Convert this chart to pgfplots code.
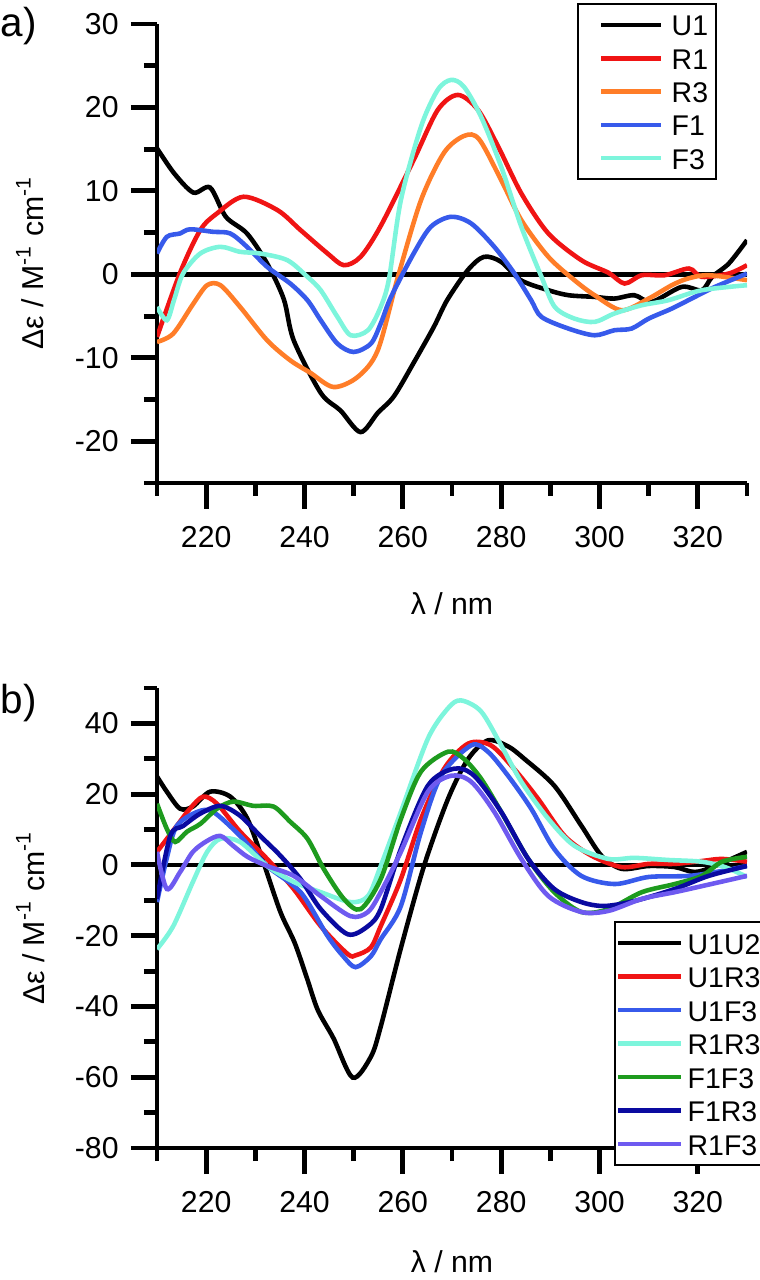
\documentclass[border=0pt]{standalone}
\usepackage{pgfplots}
\pgfplotsset{compat=1.18}
\usepackage{fontspec}
\setmainfont{Liberation Sans}
\definecolor{cR}{RGB}{240,20,20}
\definecolor{cO}{RGB}{255,125,40}
\definecolor{cB}{RGB}{55,90,235}
\definecolor{cC}{RGB}{125,245,220}
\definecolor{cG}{RGB}{30,155,30}
\definecolor{cN}{RGB}{10,10,160}
\definecolor{cP}{RGB}{110,90,240}
\newcommand{\fs}{\fontsize{8.6}{10}\selectfont}
\newcommand{\fl}{\fontsize{8.1}{10}\selectfont}
\pgfplotsset{cdstyle/.style={
  scale only axis, width=59mm,
  xmin=210, xmax=330,
  axis x line=bottom, axis y line=left,
  axis line style={-, line width=1.4pt},
  tick align=outside, major tick length=2.6mm, minor tick length=1.3mm,
  every tick/.style={black, line width=1.4pt},
  xtick={220,240,...,320}, minor xtick={210,230,...,330},
  tick label style={font=\fs},
  xticklabel style={yshift=-0.5mm},
  /pgf/number format/assume math mode=true,
  xlabel={λ / nm}, ylabel={Δε / M\textsuperscript{-1} cm\textsuperscript{-1}},
  label style={font=\fs},
  every axis plot/.append style={line width=1.3pt, smooth},
  legend cell align=left,
}}
\begin{document}
\begin{tikzpicture}
\path[use as bounding box] (0,0) rectangle (75.9mm,-128mm);
\node[anchor=base west, font=\fontsize{11.5}{13}\selectfont, inner sep=0pt] at (0mm,-3.7mm) {a)};
\node[anchor=base west, font=\fontsize{11.5}{13}\selectfont, inner sep=0pt] at (0mm,-71.3mm) {b)};
\begin{axis}[cdstyle, at={(15.7mm,-48.3mm)}, anchor=south west, height=45.9mm,
  ymin=-25, ymax=30, ytick={-20,-10,...,30}, minor ytick={-25,-15,...,25},
  xlabel style={at={(axis description cs:0.5,0)}, anchor=center, yshift=-12.1mm},
  ylabel style={at={(axis description cs:-0.215,0.48)}, anchor=center},
  legend style={at={(0.712,1.046)}, anchor=north west, draw=black, line width=0.6pt,
    font=\fl, inner xsep=0.8mm, inner ysep=1mm,
    nodes={inner sep=0pt, text height=2.2mm, text depth=0mm}, row sep=1.13mm},
  legend image code/.code={\path (0mm,0mm) (8.1mm,0mm); \draw[#1,line width=1.3pt] (1.3mm,0mm) -- (7.3mm,0mm);},
]
\addplot[black, line width=1.3pt, forget plot, sharp plot] coordinates {(210,0) (330,0)};
\addplot[black] coordinates {(210,15.1)(213.5,12.1)(217.4,9.8)(220.8,10.4)(224,6.9)(228.3,4.9)(232.4,1.3)(235.8,-3)(237.8,-7.9)(243.3,-14.2)(247.3,-16.3)(251.4,-18.9)(254.9,-16.6)(258.2,-14.6)(262.2,-10.6)(266.3,-6.3)(269,-3.1)(273.2,0.5)(276.5,2.1)(280,1.5)(284,-0.7)(289.6,-1.9)(293.7,-2.5)(299,-2.7)(303,-2.9)(307.1,-2.5)(310.6,-3.3)(316.7,-1.5)(320.8,-1.9)(322.9,-0.3)(326.3,1.3)(330,4.1)};
\addlegendentry{U1}
\addplot[cR] coordinates {(210,-7.5)(214.7,0.2)(218.8,5.3)(222.2,7.3)(227.6,9.3)(234.5,7.7)(239.2,5.3)(244.7,2.5)(248,1.1)(251.4,2.1)(255.5,5.8)(262.2,13.7)(267.1,19.7)(271.2,21.5)(275.3,19.7)(279.4,15.3)(284.1,9.7)(289.6,4.9)(296.3,1.7)(301.8,0.2)(305.1,-1.1)(308.6,-0.1)(313.3,-0.1)(318.2,0.7)(320.8,-0.3)(326.3,0.1)(330,1.1)};
\addlegendentry{R1}
\addplot[cO] coordinates {(210,-8.1)(213.3,-7.1)(217.4,-3.5)(220.2,-1.3)(222.9,-1.3)(226.9,-3.9)(232.4,-7.9)(237.1,-10.3)(241.2,-11.8)(245.9,-13.5)(250.8,-12.3)(254.9,-9.1)(259,-0.3)(263.7,8.9)(268.4,14.6)(272.5,16.6)(275.5,16.2)(280,11.3)(284.1,6.5)(289.6,2.1)(294.9,-0.7)(299,-2.5)(304.5,-4.3)(310,-2.9)(314.7,-1.3)(318,-0.5)(322.2,-0.1)(330,-0.7)};
\addlegendentry{R3}
\addplot[cB] coordinates {(210,2.5)(212,4.5)(214.7,4.9)(216.7,5.4)(221.4,5.1)(224.9,4.9)(228.3,3.3)(232.4,0.9)(237.1,-1.1)(240.6,-3.1)(243.3,-5.5)(246.7,-8.3)(250,-9.3)(253.5,-8.3)(255.5,-5.9)(257.6,-2.7)(262.2,2.5)(265.7,5.7)(269.8,6.9)(273.9,6.1)(278.6,3.3)(282.7,0.1)(286.1,-3.1)(288.2,-5.1)(293.7,-6.5)(299,-7.3)(303,-6.7)(306.5,-6.5)(310,-5.3)(314.7,-4.1)(319.4,-2.7)(323.5,-1.5)(330,0.1)};
\addlegendentry{F1}
\addplot[cC] coordinates {(210,-3.9)(212,-5.5)(213.5,-3)(215.3,0.1)(218.8,2.5)(222.9,3.3)(226.9,2.7)(231,2.5)(236.5,1.7)(240.6,-0.3)(243.3,-1.9)(246.7,-5.1)(249.4,-7.3)(252.9,-6.7)(255.5,-3.9)(257.2,-0.5)(259.6,8.9)(263.7,17.7)(267.1,22.1)(269.8,23.3)(272.4,22.5)(275.9,18.9)(280,12.9)(284.1,5.7)(288.2,-0.3)(290.9,-3.9)(294.9,-5.3)(299,-5.7)(303,-4.7)(308.6,-3.7)(314,-3.1)(320.8,-1.9)(330,-1.3)};
\addlegendentry{F3}
\end{axis}
\begin{axis}[cdstyle, at={(15.7mm,-114.8mm)}, anchor=south west, height=46mm,
  ymin=-80, ymax=50, ytick={-80,-60,...,40}, minor ytick={-70,-50,...,50},
  xlabel style={at={(axis description cs:0.5,0)}, anchor=center, yshift=-11.4mm},
  ylabel style={at={(axis description cs:-0.215,0.5)}, anchor=center},
  legend style={at={(0.7746,0.4935)}, anchor=north west, draw=black, line width=0.6pt,
    font=\fl, inner xsep=0.1mm, inner ysep=1mm,
    nodes={inner sep=0pt, text height=2.2mm, text depth=0mm}, row sep=1.15mm},
  legend image code/.code={\path (0mm,0mm) (6.7mm,0mm); \draw[#1,line width=1.3pt] (0mm,0mm) -- (6.3mm,0mm);},
]
\addplot[black, line width=1.3pt, forget plot, sharp plot] coordinates {(210,0) (330,0)};
\addplot[black] coordinates {(210,25)(212,20.7)(214.7,15.9)(217.3,16.5)(220.8,20.7)(224.9,19.3)(228.4,13)(231.6,0.9)(235.1,-13.3)(238,-22)(240.5,-32)(242.7,-41)(245.9,-49)(249.8,-60.1)(253.5,-54.2)(255.5,-45.7)(259.6,-23.5)(264.3,-0.3)(269.2,18.7)(273.3,30)(277.3,35.2)(281.4,33.5)(284.7,30)(290.8,22.4)(296.3,11.1)(300.4,2.6)(304.5,-1.1)(310,-0.3)(315.3,-0.6)(319.4,-2)(323.5,-0.3)(330,3.7)};
\addlegendentry{U1U2}
\addplot[cR] coordinates {(210,3.7)(214,11)(216.7,15.9)(219.4,19.3)(222.2,17.3)(226.9,9.4)(232.4,1.7)(237.8,-6.8)(243.3,-17.3)(248.8,-25.2)(250.5,-25.5)(253.5,-23.3)(255.5,-17.3)(259.6,-4)(263.7,13)(268.4,27.2)(273.3,34.3)(277.9,33.8)(282.6,27.2)(287.5,18.7)(292.9,8.2)(298.4,2.6)(304.5,-0.6)(310,0.3)(315.3,0.3)(320.8,1.1)(324.9,1.7)(330,0.9)};
\addlegendentry{U1R3}
\addplot[cB] coordinates {(210,-10.5)(212,2)(214,11)(218.2,15)(221.4,15)(226.9,8.2)(232.4,-0.3)(239.2,-7.7)(244.7,-20.1)(248,-26)(250.4,-28.9)(253.5,-25.8)(255.5,-21)(259.6,-11.6)(263.7,9.4)(267.8,25.2)(273.9,33.8)(277.3,32)(281.4,25.2)(286.1,15.9)(290.8,4.5)(296.3,-3.1)(303.1,-5.4)(310,-3.4)(318.2,-3.1)(324.9,-1.7)(330,-0.3)};
\addlegendentry{U1F3}
\addplot[cC] coordinates {(210,-23.8)(213.3,-17.3)(217.3,-4.8)(220.2,3.7)(222.9,7.4)(226.9,6.5)(232.4,-0.3)(237.8,-4.8)(243.3,-7.7)(249.4,-10.5)(252.9,-8.8)(255.5,-0.3)(259.6,15)(265.1,35.7)(269.2,44.3)(271.8,46.5)(275.9,43.4)(280,33.8)(284.1,23.5)(289.6,13)(294.9,5.4)(301.8,1.7)(307.1,2)(314,1.4)(320.8,0.9)(325.5,-0.6)(330,-3.4)};
\addlegendentry{R1R3}
\addplot[cG] coordinates {(210,17.3)(212,10.2)(213.7,6.5)(216.1,9.4)(218.8,11.6)(222.2,15.9)(225.5,17.9)(229.6,16.7)(233.7,16.5)(237.1,12.2)(240.6,7.4)(243.9,-1.1)(248,-9.6)(251.4,-12.5)(255.5,-4)(259.6,13)(263.7,26.4)(269.2,32)(272.4,30)(275.9,24.4)(280,15)(285.5,1.7)(290.8,-7.7)(296.3,-13.3)(301.8,-12.5)(308.6,-7.7)(315.3,-5.4)(320.8,-3.1)(324.9,0.9)(330,2.3)};
\addlegendentry{F1F3}
\addplot[cN] coordinates {(210,-9.6)(212.7,8.2)(215.3,11)(218.8,14.5)(222.9,16.7)(226.9,13.9)(231,8.2)(235.1,2.6)(239.2,-4)(243.3,-12.5)(248.8,-19.6)(252.9,-17.3)(255.5,-12.5)(259.6,4.5)(265.1,22.4)(270.4,27.2)(274.5,25.2)(280,15)(285.5,1.7)(290.8,-6.8)(296.3,-10.5)(301,-11.6)(307.1,-10.2)(315.3,-6.8)(322.2,-3.1)(330,-0.3)};
\addlegendentry{F1R3}
\addplot[cP] coordinates {(210,3.7)(212,-6.8)(214.7,-2)(217.3,3.7)(220.2,6.8)(222.9,8.2)(225.5,5.4)(228.4,2.3)(232.4,-0.3)(237.8,-3.1)(243.3,-8.8)(249.4,-14.5)(252.9,-13.3)(255.5,-7.7)(259.6,3.7)(265.1,20.7)(269.8,25.2)(273.9,23.5)(278.6,15)(284.1,1.7)(289.6,-8.8)(296.3,-13.3)(301.8,-13)(308.6,-9.6)(315.3,-7.7)(320.8,-6)(330,-3.1)};
\addlegendentry{R1F3}
\end{axis}
\end{tikzpicture}
\end{document}
